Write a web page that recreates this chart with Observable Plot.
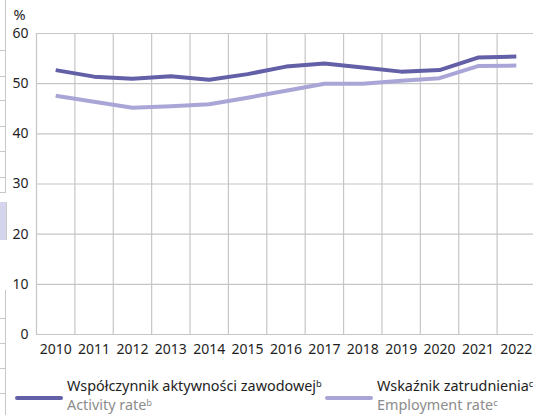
<!DOCTYPE html>
<html>
<head>
<meta charset="utf-8">
<script src="https://cdn.jsdelivr.net/npm/d3@7"></script>
<script src="https://cdn.jsdelivr.net/npm/@observablehq/plot@0.6"></script>
<style>
  html, body { margin: 0; padding: 0; background: #fff; }
  body { width: 533px; height: 415px; position: relative; overflow: hidden; font-family: "Noto Sans", sans-serif; }
  #chart { position: absolute; left: 0; top: 0; }
  .swatch { position: absolute; width: 48px; height: 4px; border-radius: 2px; top: 396px; }
  .ltxt { position: absolute; font-size: 14.4px; line-height: 16px; white-space: nowrap; }
  .pl { color: #1e1e1e; top: 378px; }
  .en { color: #8c8c8c; top: 397px; }
  .deco { position: absolute; background: #c8c8c8; }
</style>
</head>
<body>
<div id="chart"></div>
<div class="deco" style="left:5px;top:0;width:1px;height:192px"></div>
<div class="deco" style="left:0;top:192px;width:6px;height:1px"></div>
<div class="deco" style="left:0;top:50px;width:5px;height:1px"></div>
<div class="deco" style="left:0;top:76px;width:5px;height:1px"></div>
<div class="deco" style="left:0;top:100px;width:5px;height:1px"></div>
<div class="deco" style="left:0;top:126px;width:5px;height:1px"></div>
<div class="deco" style="left:0;top:151px;width:5px;height:1px"></div>
<div class="deco" style="left:0;top:177px;width:5px;height:1px"></div>
<div class="deco" style="left:0;top:202px;width:6px;height:38px;background:#d4d4ec;border-right:1px solid #c8c8c8"></div>
<div class="deco" style="left:5px;top:290px;width:1px;height:125px"></div>
<div class="deco" style="left:0;top:318px;width:5px;height:1px"></div>
<div class="deco" style="left:0;top:343px;width:5px;height:1px"></div>
<div class="deco" style="left:0;top:368px;width:5px;height:1px"></div>
<div class="deco" style="left:0;top:393px;width:5px;height:1px"></div>
<div id="legend"></div>
<script>
const years = [2010, 2011, 2012, 2013, 2014, 2015, 2016, 2017, 2018, 2019, 2020, 2021, 2022];
const activityRate = [52.7, 51.4, 51.0, 51.5, 50.8, 51.9, 53.4, 54.0, 53.2, 52.4, 52.7, 55.2, 55.4];
const employmentRate = [47.6, 46.4, 45.2, 45.5, 45.9, 47.2, 48.6, 50.0, 50.0, 50.6, 51.1, 53.5, 53.6];
const yTicks = [0, 10, 20, 30, 40, 50, 60];
const seriesNames = ["Współczynnik aktywności zawodowej", "Wskaźnik zatrudnienia"];
const seriesNamesEn = ["Activity rate", "Employment rate"];
const seriesNotes = ["ᵇ", "ᶜ"];
const seriesColors = ["#6360a8", "#a9a6d7"];

const data = [];
years.forEach((y, i) => {
  data.push({year: y, value: activityRate[i], series: seriesNames[0]});
  data.push({year: y, value: employmentRate[i], series: seriesNames[1]});
});
const gridYears = years.map(y => y - 0.5);

const plot = Plot.plot({
  width: 533,
  height: 360,
  marginTop: 33,
  marginBottom: 26,
  marginLeft: 36,
  marginRight: 0,
  style: {fontFamily: "'Noto Sans', sans-serif", fontSize: "14px", color: "#1e1e1e", background: "transparent"},
  x: {type: "linear", domain: [2009.5, 2022.5], range: [36, 535], axis: null},
  y: {domain: [0, 60], axis: null},
  color: {domain: seriesNames, range: seriesColors},
  marks: [
    Plot.ruleY(yTicks, {stroke: "#c6c6c6", strokeWidth: 1.2}),
    Plot.ruleX(gridYears, {stroke: "#c6c6c6", strokeWidth: 1.2}),
    Plot.axisY(yTicks, {tickSize: 0, tickPadding: 8, label: null, fontSize: 14, fill: "#1e1e1e"}),
    Plot.axisX(years, {tickSize: 0, tickPadding: 10, label: null, tickFormat: d => String(d), fontSize: 14, fill: "#1e1e1e"}),
    Plot.line(data, {x: "year", y: "value", z: "series", stroke: "series", strokeWidth: 4, strokeLinejoin: "round", strokeLinecap: "butt"}),
    Plot.text(["%"], {frameAnchor: "top-left", dx: -17, dy: -18, textAnchor: "middle", lineAnchor: "middle", fontSize: 14.5, fill: "#1e1e1e"})
  ]
});
document.getElementById("chart").appendChild(plot);

const legend = document.getElementById("legend");
const lefts = [15, 325];
seriesNames.forEach((name, i) => {
  const sw = document.createElement("div");
  sw.className = "swatch";
  sw.style.left = lefts[i] + "px";
  sw.style.background = seriesColors[i];
  legend.appendChild(sw);
  const pl = document.createElement("div");
  pl.className = "ltxt pl";
  pl.style.left = (lefts[i] + 52) + "px";
  pl.textContent = name + seriesNotes[i];
  legend.appendChild(pl);
  const en = document.createElement("div");
  en.className = "ltxt en";
  en.style.left = (lefts[i] + 52) + "px";
  en.textContent = seriesNamesEn[i] + seriesNotes[i];
  legend.appendChild(en);
});
</script>
</body>
</html>
